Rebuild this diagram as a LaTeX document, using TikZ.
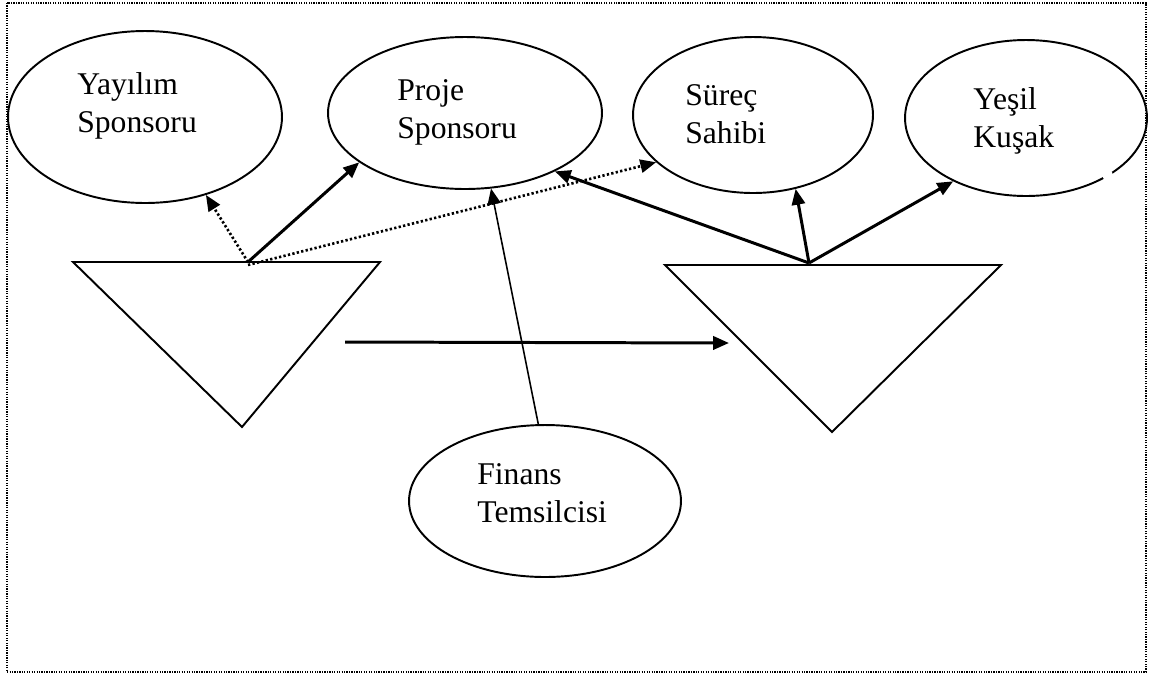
\documentclass[tikz,border=0pt]{standalone}
\usepackage{fontspec}
\setmainfont{Liberation Serif}
\usetikzlibrary{shapes.geometric,arrows.meta}

\begin{document}
\begin{tikzpicture}[x=0.02cm,y=-0.02cm,
  role/.style={ellipse,draw,line width=1.1pt,inner sep=0pt},
  lbl/.style={anchor=base west,align=left,inner sep=0pt,
    font=\fontsize{18pt}{21.5pt}\selectfont},
  tri/.style={draw,line width=1.1pt,line join=miter},
  link/.style={line width=1.7pt,-{Triangle[length=9pt,width=7.5pt]}},
  thin link/.style={line width=0.9pt,-{Triangle[length=9pt,width=7.5pt]}},
  dotlink/.style={line width=1.5pt,dash pattern=on 1.3pt off 1.3pt,
    -{Triangle[length=9pt,width=7.5pt]}},
  frame/.style={draw,line width=0.7pt,dash pattern=on 0.7pt off 0.7pt}]

\useasboundingbox (0,0) rectangle (1158,677);
\draw[frame] (7,3) rectangle (1146,672);

% role ellipses
\node[role,minimum width=5.48cm,minimum height=3.44cm] (yay) at (145,117) {};
\node[role,minimum width=5.48cm,minimum height=3.04cm] (proje) at (465,113) {};
\node[role,minimum width=4.80cm,minimum height=3.12cm] (surec) at (753,115) {};
\node[role,minimum width=4.84cm,minimum height=3.12cm] (yesil) at (1026,118) {};
\node[role,minimum width=5.44cm,minimum height=3.04cm] (finans) at (545,501) {};
% small break in the Yesil Kusak outline
\fill[white] (1108,176) circle (0.11cm);

% labels (anchored at the baseline of the second line)
\node[lbl] (yaytext) at (77,132) {Yayılım\\Sponsoru};
\node[lbl] (projetext) at (397,138) {Proje\\Sponsoru};
\node[lbl] (surectext) at (685,143) {Süreç\\Sahibi};
\node[lbl] (yesiltext) at (973,147) {Yeşil\\Kuşak};
\node[lbl] (finanstext) at (477,522) {Finans\\Temsilcisi};

% inverted triangles
\coordinate (lt1) at (73,262);
\coordinate (lt2) at (380,262);
\coordinate (lt3) at (242,427);
\coordinate (rt1) at (665,265);
\coordinate (rt2) at (1001,265);
\coordinate (rt3) at (832,432);
\draw[tri] (lt1) -- (lt2) -- (lt3) -- cycle;
\draw[tri] (rt1) -- (rt2) -- (rt3) -- cycle;

% arrow origins
\coordinate (lsrc) at (248,262);
\coordinate (lsrcb) at (248,265);
\coordinate (rsrc) at (809,263);
\coordinate (hstart) at (345,342);
\coordinate (hend) at (729,343);

% connectors
\draw[link] (lsrc) -- (proje.205.5);
\draw[dotlink] (lsrc) -- (yay.-52.3);
\draw[dotlink] (lsrcb) -- (surec.206.8);
\draw[link] (rsrc) -- (proje.-33.4);
\draw[link] (rsrc) -- (surec.-60.6);
\draw[link] (rsrc) -- (yesil.221.3);
\draw[thin link] (finans.95.8) -- (proje.-71.3);
\draw[link] (hstart) -- (hend);
\end{tikzpicture}
\end{document}
